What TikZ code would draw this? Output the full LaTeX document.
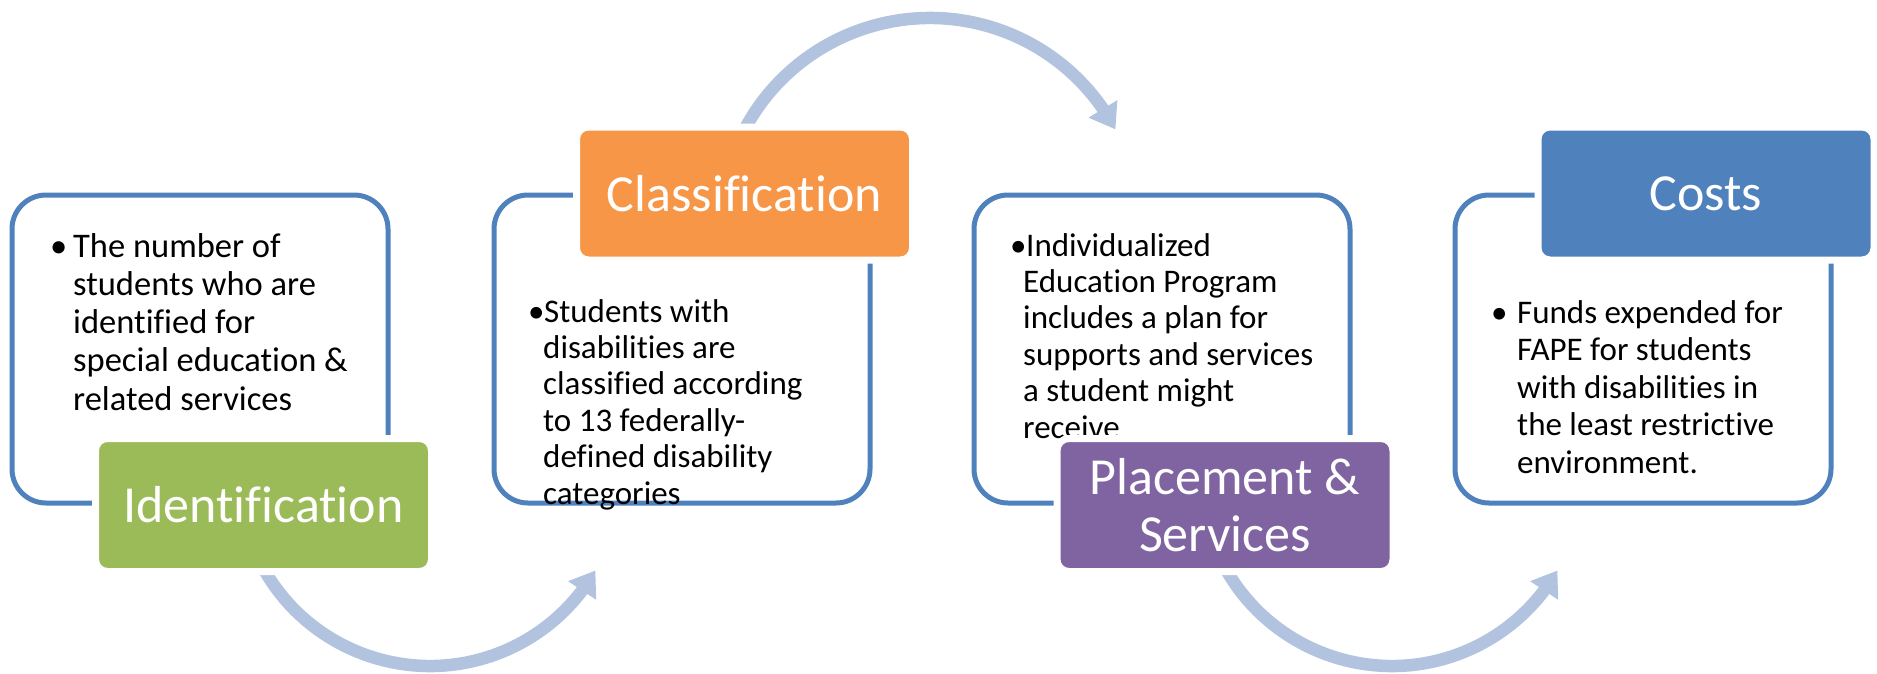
\documentclass[tikz,border=0pt]{standalone}
\usepackage{fontspec}
\setmainfont{Carlito}[Ligatures=NoCommon]
\usetikzlibrary{arrows.meta,bending,calc}
\definecolor{panelblue}{HTML}{4F81BD}
\definecolor{idgreen}{HTML}{9BBB59}
\definecolor{clorange}{HTML}{F79646}
\definecolor{plpurple}{HTML}{8064A2}
\definecolor{coblue}{HTML}{4F81BD}
\definecolor{arrowblue}{HTML}{B1C3DE}
\newcommand{\bodyA}{\fontsize{34.5}{38.3}\selectfont}
\newcommand{\bodyB}{\fontsize{33}{36.4}\selectfont}
\newcommand{\bodyC}{\fontsize{33}{37.5}\selectfont}
\begin{document}
\begin{tikzpicture}[x=1pt,y=-1pt,
  panel/.style={draw=panelblue, line width=5pt, rounded corners=34pt,
    minimum width=376pt, minimum height=308pt, inner sep=0pt},
  catbox/.style={draw=white, line width=7pt, rounded corners=12pt,
    minimum width=336pt, minimum height=133pt, inner sep=0pt,
    text=white, font=\fontsize{52}{57}\selectfont, align=center},
  bodytext/.style={anchor=base west, inner sep=0pt, text=black},
  flow/.style={draw=arrowblue, line width=12.5pt,
    -{Triangle[width=32pt,length=24pt]}}]
\useasboundingbox (0,0) rectangle (1877,673);

% curved arrows (drawn first, partly hidden by the boxes)
\coordinate (a1s) at ($(430,475)+(155:191)$);
\draw[flow] (a1s) arc[start angle=155, end angle=30, radius=191];
\coordinate (a2s) at ($(930,228)+(205:210)$);
\draw[flow] (a2s) arc[start angle=205, end angle=332, radius=210];
\coordinate (a3s) at ($(1392,475)+(155:191)$);
\draw[flow] (a3s) arc[start angle=155, end angle=30, radius=191];

% panels
\node[panel] (p1) at (200,349) {};
\node[panel] (p2) at (682,349) {};
\node[panel] (p3) at (1162,349) {};
\node[panel] (p4) at (1643,349) {};

% body texts
\node[bodytext] (t1) at (50,257) {\parbox[t]{330pt}{\bodyA\raggedright
  \hangindent=23pt\hangafter=1\makebox[23pt][l]{\textbullet}The number of\newline
  students who are\newline identified for\newline special education \&\newline related services}};
\node[bodytext] (t2) at (528,322) {\parbox[t]{330pt}{\bodyB\raggedright
  \hangindent=15pt\hangafter=1\makebox[16pt][l]{\textbullet}Students with\newline
  disabilities are\newline classified according\newline to 13 federally-\newline defined disability\newline categories}};
\node[bodytext] (t3) at (1010,256) {\parbox[t]{330pt}{\bodyB\raggedright
  \hangindent=13pt\hangafter=1\makebox[16pt][l]{\textbullet}Individualized\newline
  Education Program\newline includes a plan for\newline supports and services\newline a student might\newline receive}};
\node[bodytext] (t4) at (1491,323) {\parbox[t]{330pt}{\bodyC\raggedright
  \hangindent=26pt\hangafter=1\makebox[26pt][l]{\textbullet}Funds expended for\newline
  FAPE for students\newline with disabilities in\newline the least restrictive\newline environment.}};

% category boxes
\node[catbox, fill=idgreen] (k1) at (263.5,505) {Identification};
\node[catbox, fill=clorange] (k2) at (744.5,193.5) {Classification};
\node[catbox, fill=plpurple] (k3) at (1225,505) {Placement \&\\Services};
\node[catbox, fill=coblue] (k4) at (1706,193.5) {Costs};
\end{tikzpicture}
\end{document}
